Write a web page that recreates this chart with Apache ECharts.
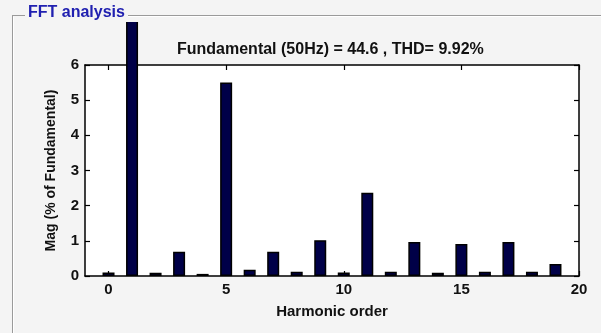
<!DOCTYPE html>
<html>
<head>
<meta charset="utf-8">
<script src="https://cdn.jsdelivr.net/npm/echarts@6/dist/echarts.min.js"></script>
<style>
html,body{margin:0;padding:0;background:#f4f4f4;}
#chart{width:601px;height:333px;}
</style>
</head>
<body>
<div id="chart"></div>
<script>
var harmonics = [0,1,2,3,4,5,6,7,8,9,10,11,12,13,14,15,16,17,18,19];
var mags = [0.10,100,0.09,0.69,0.06,5.50,0.18,0.69,0.12,1.02,0.10,2.37,0.12,0.97,0.09,0.91,0.12,0.97,0.12,0.34];
var xTicks = [0,5,10,15,20];
var titleText = 'Fundamental (50Hz) = 44.6 , THD= 9.92%';
var panelTitle = 'FFT analysis';
var xName = 'Harmonic order';
var yName = 'Mag (% of Fundamental)';

var BG = '#f4f4f4';
var FONT = 'Liberation Sans, Arial, sans-serif';
var chart = echarts.init(document.getElementById('chart'), null, {renderer:'canvas'});

var axisLine = {show:true, onZero:false, lineStyle:{color:'#000', width:1.5}};
var tickStyle = {show:true, inside:true, length:5, lineStyle:{color:'#000', width:1.2}};
var labelStyle = {color:'#111', fontSize:15, fontWeight:'bold', fontFamily:FONT};

chart.setOption({
  backgroundColor: BG,
  animation: false,
  title: {
    text: titleText,
    left: 172, top: 37,
    textStyle: {color:'#111', fontSize:16, fontWeight:'bold', fontFamily:FONT}
  },
  grid: {left:85, right:22, top:65, bottom:57, show:true, backgroundColor:'#fff', borderWidth:0},
  xAxis: [{
    type:'value', min:-1, max:20, position:'bottom',
    axisLine: axisLine,
    axisTick: Object.assign({customValues: xTicks}, tickStyle),
    axisLabel: Object.assign({customValues: xTicks, margin:6}, labelStyle),
    splitLine:{show:false},
    name: xName, nameLocation:'middle', nameGap:28,
    nameTextStyle:{color:'#111', fontSize:15, fontWeight:'bold', fontFamily:FONT}
  },{
    type:'value', min:-1, max:20, position:'top',
    axisLine: axisLine,
    axisTick: Object.assign({customValues: xTicks}, tickStyle),
    axisLabel:{show:false}, splitLine:{show:false}
  }],
  yAxis: [{
    type:'value', min:0, max:6, interval:1, position:'left',
    axisLine: axisLine,
    axisTick: tickStyle,
    axisLabel: Object.assign({margin:6}, labelStyle),
    splitLine:{show:false},
    name: yName, nameLocation:'middle', nameGap:27, nameRotate:90,
    nameTextStyle:{color:'#111', fontSize:14, fontWeight:'bold', fontFamily:FONT}
  },{
    type:'value', min:0, max:6, interval:1, position:'right',
    axisLine: axisLine,
    axisTick: tickStyle,
    axisLabel:{show:false}, splitLine:{show:false}
  }],
  series: [{
    type:'bar',
    xAxisIndex:0, yAxisIndex:0,
    clip:false,
    barWidth:12,
    data: harmonics.map(function(h,i){return [h, mags[i]];}),
    itemStyle:{color:'#000048', borderColor:'#000', borderWidth:1.5}
  }],
  graphic: [
    {type:'rect', z:100, shape:{x:0, y:0, width:601, height:22}, style:{fill:BG}},
    {type:'line', z:101, shape:{x1:12.5, y1:15.5, x2:12.5, y2:333}, style:{stroke:'#9a9a9a', lineWidth:1}},
    {type:'line', z:101, shape:{x1:13.5, y1:16.5, x2:13.5, y2:333}, style:{stroke:'#ffffff', lineWidth:1}},
    {type:'line', z:101, shape:{x1:12, y1:15.5, x2:25, y2:15.5}, style:{stroke:'#9a9a9a', lineWidth:1}},
    {type:'line', z:101, shape:{x1:128, y1:15.5, x2:601, y2:15.5}, style:{stroke:'#9a9a9a', lineWidth:1}},
    {type:'line', z:101, shape:{x1:128, y1:16.5, x2:601, y2:16.5}, style:{stroke:'#ffffff', lineWidth:1}},
    {type:'text', z:102, left:28, top:5,
      style:{text:panelTitle, fill:'#2020b0', fontSize:16, fontWeight:'bold', fontFamily:FONT}}
  ]
});
</script>
</body>
</html>
